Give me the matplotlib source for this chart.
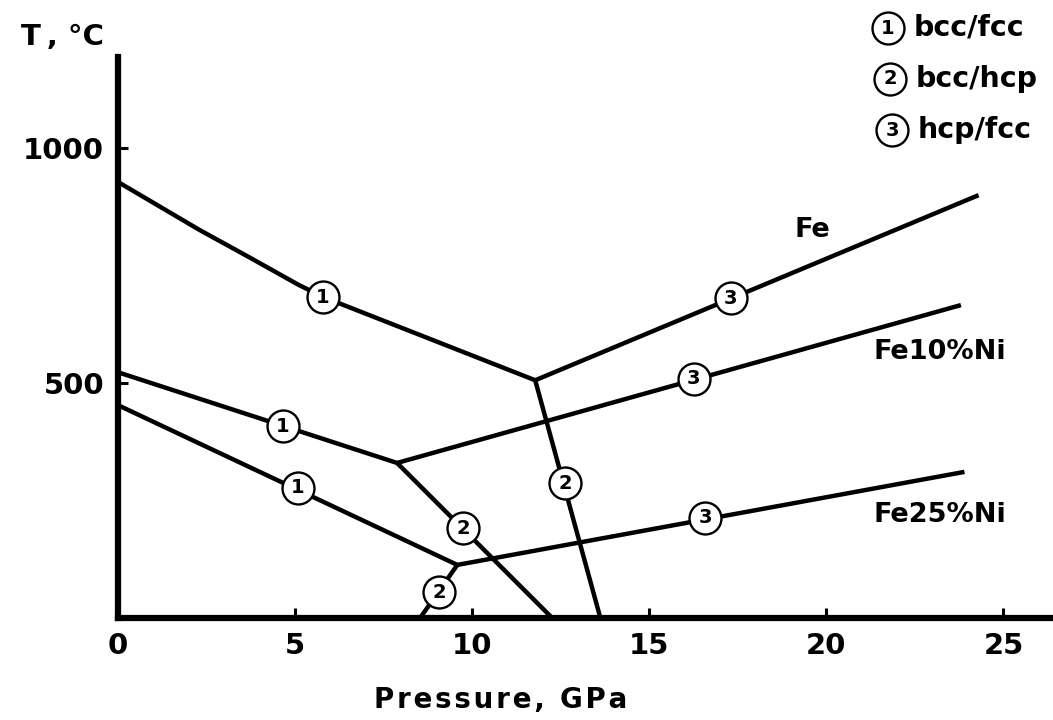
import matplotlib
matplotlib.use('Agg')
import matplotlib.pyplot as plt

# phase boundaries, pressure (GPa) vs temperature (C)
fe_bcc_fcc_p = [0, 2.3, 3.7, 5.1, 5.8, 11.78]
fe_bcc_fcc_t = [928, 826, 768, 709, 683, 506]
fe_bcc_hcp_p = [11.78, 13.62]
fe_bcc_hcp_t = [506, 0]
fe_hcp_fcc_p = [11.78, 24.3]
fe_hcp_fcc_t = [506, 900]

ni10_bcc_fcc_p = [0, 7.88]
ni10_bcc_fcc_t = [523, 330]
ni10_bcc_hcp_p = [7.88, 12.26]
ni10_bcc_hcp_t = [330, 0]
ni10_hcp_fcc_p = [7.88, 23.8]
ni10_hcp_fcc_t = [330, 666]

ni25_bcc_fcc_p = [0, 9.58]
ni25_bcc_fcc_t = [453, 113]
ni25_bcc_hcp_p = [9.58, 8.53]
ni25_bcc_hcp_t = [113, 0]
ni25_hcp_fcc_p = [9.58, 23.9]
ni25_hcp_fcc_t = [113, 311]

# numbered circle labels on the curves
mark_p = [5.79, 12.63, 17.3, 4.66, 9.75, 16.25, 5.08, 9.07, 16.58]
mark_t = [683, 287, 681, 408, 191, 509, 277, 55, 213]
mark_num = ['1', '2', '3', '1', '2', '3', '1', '2', '3']

curve_names = ['Fe', 'Fe10%Ni', 'Fe25%Ni']
name_p = [19.6, 23.2, 23.2]
name_t = [826, 566, 219]

legend_num = ['1', '2', '3']
legend_txt = ['bcc/fcc', 'bcc/hcp', 'hcp/fcc']


def spaced(s):
    # the original lettering is a little wider than DejaVu
    return '\u200a'.join(s)


W, H = 1053, 720
fig = plt.figure(figsize=(W / 100, H / 100), dpi=100)
ax = fig.add_axes([118 / W, 1 - 618 / H, 935 / W, 561 / H])

lines = [(fe_bcc_fcc_p, fe_bcc_fcc_t), (fe_bcc_hcp_p, fe_bcc_hcp_t), (fe_hcp_fcc_p, fe_hcp_fcc_t),
         (ni10_bcc_fcc_p, ni10_bcc_fcc_t), (ni10_bcc_hcp_p, ni10_bcc_hcp_t), (ni10_hcp_fcc_p, ni10_hcp_fcc_t),
         (ni25_bcc_fcc_p, ni25_bcc_fcc_t), (ni25_bcc_hcp_p, ni25_bcc_hcp_t), (ni25_hcp_fcc_p, ni25_hcp_fcc_t)]
for p, t in lines:
    ax.plot(p, t, color='black', lw=3.2, solid_capstyle='butt', clip_on=False, zorder=3)

ax.scatter(mark_p, mark_t, s=23 ** 2, facecolor='white', edgecolor='black', linewidth=1.7, zorder=4, clip_on=False)
for p, t, n in zip(mark_p, mark_t, mark_num):
    ax.text(p, t, n, ha='center', va='center', fontsize=14, fontweight='bold', zorder=5)

for p, t, name in zip(name_p, name_t, curve_names):
    ax.text(p, t, name, ha='center', va='center', fontsize=19.5, fontweight='bold')

ax.set_xlim(0, 26.4)
ax.set_ylim(0, 1194)
ax.set_xticks([0, 5, 10, 15, 20, 25])
ax.set_yticks([500, 1000])
ax.spines['top'].set_visible(False)
ax.spines['right'].set_visible(False)
ax.spines['left'].set_linewidth(4.5)
ax.spines['bottom'].set_linewidth(4.5)
ax.tick_params(direction='in', length=7, width=2.2, labelsize=21, pad=10)
for lab in ax.get_xticklabels() + ax.get_yticklabels():
    lab.set_fontweight('bold')

fig.text(62 / W, 1 - 37 / H, 'T\u2009, \u00b0C', ha='center', va='center', fontsize=21, fontweight='bold')
fig.text(501 / W, 1 - 700 / H, spaced('Pressure, GPa'),
         ha='center', va='center', fontsize=20, fontweight='bold')

# key in the upper right corner
for i, (n, txt) in enumerate(zip(legend_num, legend_txt)):
    y = 1 - (28 + i * 51) / H
    x0 = (888 + i * 2) / W
    fig.lines.append(plt.Line2D([x0], [y], transform=fig.transFigure, marker='o', markersize=23,
                                markerfacecolor='white', markeredgecolor='black', markeredgewidth=1.7))
    fig.text(x0, y, n, ha='center', va='center', fontsize=14, fontweight='bold')
    fig.text(x0 + 26 / W, y, txt, ha='left', va='center', fontsize=20.5, fontweight='bold')

fig.savefig('out.png', dpi=100)
